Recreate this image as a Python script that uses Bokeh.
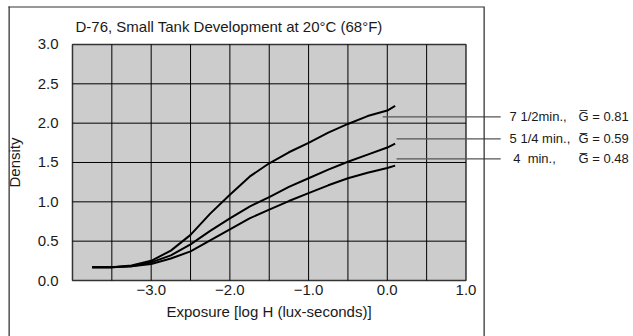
from bokeh.plotting import figure
from bokeh.models import FixedTicker, CustomJSTickFormatter, Label, Range1d, Title
from bokeh.core.properties import value
from bokeh.embed import file_html
from bokeh.resources import INLINE

# ---- data ----
log_h = [-3.75, -3.5, -3.25, -3.0, -2.75, -2.5, -2.25, -2.0, -1.75, -1.5,
         -1.25, -1.0, -0.75, -0.5, -0.25, 0.0, 0.1]
dens_7_5 = [0.17, 0.17, 0.19, 0.25, 0.38, 0.58, 0.85, 1.09, 1.32, 1.49,
            1.63, 1.75, 1.88, 1.99, 2.09, 2.16, 2.22]
dens_5_25 = [0.17, 0.17, 0.18, 0.23, 0.32, 0.46, 0.63, 0.79, 0.94, 1.06,
             1.19, 1.30, 1.41, 1.51, 1.60, 1.69, 1.74]
dens_4 = [0.17, 0.17, 0.18, 0.21, 0.28, 0.37, 0.51, 0.65, 0.79, 0.90,
          1.01, 1.11, 1.21, 1.30, 1.37, 1.43, 1.46]
series = [dens_7_5, dens_5_25, dens_4]
time_labels = ["7 1/2min.,", "5 1/4 min.,", " 4  min.,"]
gammas = [0.81, 0.59, 0.48]
x_ticks = [-3, -2, -1, 0, 1]
x_grid = [-3.5, -3.0, -2.5, -2.0, -1.5, -1.0, -0.5, 0.0, 0.5]
y_ticks = [0.0, 0.5, 1.0, 1.5, 2.0, 2.5, 3.0]
y_grid = [0.5, 1.0, 1.5, 2.0, 2.5]
x_lim = (-4.0, 1.0)
y_lim = (0.0, 3.0)
title_text = "D-76, Small Tank Development at 20°C (68°F)"
x_label = "Exposure [log H (lux-seconds)]"
y_label = "Density"

FONT = "Liberation Sans"
TXT = "#1a1a1a"
NB = "\u00a0"

# frame covers the plot area and the label column on the right
PXX, PXY = 79.4, 78.67          # pixels per data unit
x0 = x_lim[0] - 2 / PXX
y0 = y_lim[0] - 2 / PXY
p = figure(width=633, height=336, output_backend="svg", toolbar_location=None,
           x_range=Range1d(x0, x0 + 568 / PXX), y_range=Range1d(y0, y0 + 240 / PXY),
           min_border_left=65, min_border_right=0, min_border_top=42,
           min_border_bottom=54)
p.background_fill_color = "white"
p.border_fill_color = "white"
p.outline_line_color = None
p.grid.visible = False

p.title.text = title_text
p.title.text_font = FONT
p.title.text_font_size = "15px"
p.title.text_font_style = "normal"
p.title.text_color = TXT
p.title.align = "left"
p.title.offset = 5
p.title.standoff = 13

for ax in (p.xaxis[0], p.yaxis[0]):
    ax.axis_line_color = None
    ax.major_tick_line_color = None
    ax.minor_tick_line_color = None
    ax.major_label_text_font = FONT
    ax.major_label_text_font_size = "15px"
    ax.major_label_text_color = TXT
    ax.axis_label_text_font = FONT
    ax.axis_label_text_font_size = "15px"
    ax.axis_label_text_font_style = "normal"
    ax.axis_label_text_color = TXT

p.xaxis.ticker = FixedTicker(ticks=x_ticks)
p.xaxis.formatter = CustomJSTickFormatter(
    code="return (tick < 0 ? '\u2212' : '') + Math.abs(tick).toFixed(1);")
p.xaxis.major_tick_out = 0
p.xaxis.major_tick_in = 0
p.xaxis.major_label_standoff = 2
p.yaxis.ticker = FixedTicker(ticks=y_ticks)
p.yaxis.bounds = y_lim
p.yaxis.formatter = CustomJSTickFormatter(code="return tick.toFixed(1);")
p.yaxis.axis_label = y_label
p.yaxis.major_label_standoff = 6
p.yaxis.axis_label_standoff = 12

# x-axis label, left-aligned under the plot area
p.add_layout(Title(text=x_label, align="left", offset=96, standoff=7,
                   text_font=FONT, text_font_size="15px", text_font_style="normal",
                   text_color=TXT), "below")

# grey plot area with its grid
p.quad(left=[x_lim[0]], right=[x_lim[1]], bottom=[y_lim[0]], top=[y_lim[1]],
       fill_color="#cccccc", line_color="#333333", line_width=1.5)
p.segment(x0=x_grid, y0=[y_lim[0]] * len(x_grid), x1=x_grid,
          y1=[y_lim[1]] * len(x_grid), line_color="black", line_width=1)
p.segment(x0=[x_lim[0]] * len(y_grid), y0=y_grid, x1=[x_lim[1]] * len(y_grid),
          y1=y_grid, line_color="black", line_width=1)

# curves
for ys in series:
    p.line(log_h, ys, line_color="black", line_width=2)

# leader lines and their labels
lead_y = [2.081, 1.80, 1.545]
lead_x0 = [-0.058, 0.118, 0.118]
p.segment(x0=lead_x0, y0=lead_y, x1=[1.441] * 3, y1=lead_y,
          line_color="#555555", line_width=1.2)
p.text(x=[1.554] * 3, y=lead_y, text=[t.replace(" ", NB) for t in time_labels],
       text_font=value(FONT), text_font_size="13px", text_color=TXT,
       text_baseline="middle", text_align="left")
p.text(x=[2.43] * 3, y=lead_y, text=["G\u0305 = %.2f" % g for g in gammas],
       text_font=value(FONT), text_font_size="13px", text_color=TXT,
       text_baseline="middle", text_align="left")

# outer frame of the figure: thin filled label boxes in side panels
# (side-panel annotations are not clipped to the frame)
box_px = (8, 6, 483)                      # left, top, right in canvas pixels
box_data = (-4.743, 3.483, 1.239)         # same in data units (fallback)


def rule(ix, pad):
    kw = dict(text=" ", text_font_size="1px", text_color="#333333",
              text_align="left", text_baseline="top", padding=pad,
              background_fill_color="#333333", border_line_color=None)
    try:
        return Label(x=box_px[ix], y=box_px[1], x_units="canvas",
                     y_units="canvas", **kw)
    except Exception:
        return Label(x=box_data[ix], y=box_data[1], **kw)


p.add_layout(rule(0, dict(left=0, right=475, top=0, bottom=0)), "above")
p.add_layout(rule(0, dict(left=0, right=1, top=0, bottom=340)), "left")
p.add_layout(rule(2, dict(left=0, right=1, top=0, bottom=340)), "left")

open("out.html", "w").write(file_html(p, INLINE))
